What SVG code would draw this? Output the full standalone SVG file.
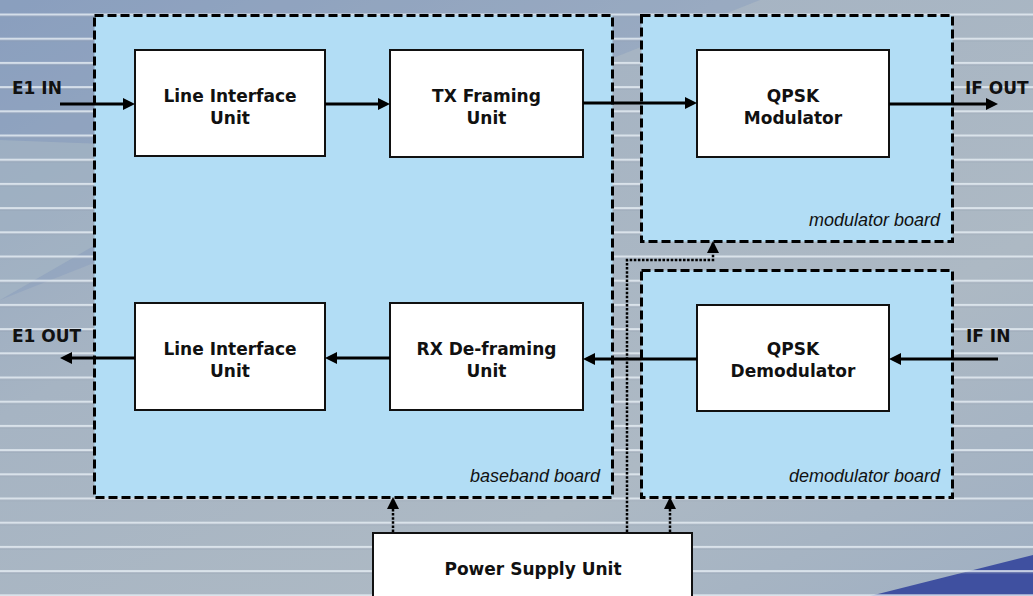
<svg xmlns="http://www.w3.org/2000/svg" width="1033" height="596" viewBox="0 0 1033 596">
  <defs>
    <linearGradient id="bg" x1="0" y1="0" x2="1" y2="1">
      <stop offset="0" stop-color="#8fa3bf"/>
      <stop offset="0.35" stop-color="#a6b4c3"/>
      <stop offset="0.7" stop-color="#adb9c4"/>
      <stop offset="1" stop-color="#9fafc2"/>
    </linearGradient>
    <pattern id="stripes" x="0" y="13.5" width="40" height="24.2" patternUnits="userSpaceOnUse">
      <rect x="0" y="0" width="40" height="2.2" fill="#e6eef4" opacity="0.8"/>
      <rect x="0" y="2.2" width="40" height="1.5" fill="#8a98a8" opacity="0.25"/>
    </pattern>
    <marker id="ah" viewBox="0 0 12 12" refX="8" refY="6" markerWidth="12" markerHeight="12" markerUnits="userSpaceOnUse" orient="auto">
      <path d="M0,0 L12,6 L0,12 z" fill="#000"/>
    </marker>
    <marker id="ahd" viewBox="0 0 12 12" refX="10" refY="6" markerWidth="12" markerHeight="12" markerUnits="userSpaceOnUse" orient="auto">
      <path d="M0,0 L12,6 L0,12 z" fill="#000"/>
    </marker>
  </defs>
  <style>
    .board { fill: #b2ddf5; stroke: #000; stroke-width: 3; stroke-dasharray: 9 4; }
    .box { fill: #fff; stroke: #111; stroke-width: 2; }
    .t { font-family: "DejaVu Sans", Verdana, sans-serif; font-weight: bold; font-size: 17px; fill: #111; text-anchor: middle; }
    .io { font-family: "DejaVu Sans", Verdana, sans-serif; font-weight: bold; font-size: 17px; fill: #111; }
    .lbl { font-family: "Liberation Sans", Arial, sans-serif; font-style: italic; font-size: 18px; fill: #111; text-anchor: end; }
    .sig { stroke: #000; stroke-width: 3; fill: none; marker-end: url(#ah); }
    .pwr { stroke: #000; stroke-width: 2.5; fill: none; stroke-dasharray: 2.5 1.6; }
    .pwra { marker-end: url(#ahd); }
  </style>

  <g id="background">
    <rect x="0" y="0" width="1033" height="596" fill="url(#bg)"/>
    <polygon points="0,0 760,0 0,300" fill="#8097bd" opacity="0.35"/>
    <polygon points="0,300 0,140 260,150" fill="#c9d2cc" opacity="0.25"/>
    <polygon points="870,596 1033,555 1033,596" fill="#3f50a0"/>
    <rect x="0" y="0" width="1033" height="596" fill="url(#stripes)"/>
  </g>

  <g id="baseband-board">
    <rect class="board" x="94.5" y="15.5" width="518" height="482"/>
    <text class="lbl" x="600" y="482">baseband board</text>
  </g>
  <g id="modulator-board">
    <rect class="board" x="641.5" y="15.5" width="311" height="226"/>
    <text class="lbl" x="940" y="226">modulator board</text>
  </g>
  <g id="demodulator-board">
    <rect class="board" x="641.5" y="270.5" width="311" height="227"/>
    <text class="lbl" x="940" y="482">demodulator board</text>
  </g>

  <g id="liu-tx">
    <rect class="box" x="135" y="50" width="190" height="106"/>
    <text class="t" x="230" y="102">Line Interface</text>
    <text class="t" x="230" y="124">Unit</text>
  </g>
  <g id="tx-framing">
    <rect class="box" x="390" y="50" width="193" height="107"/>
    <text class="t" x="486.5" y="102">TX Framing</text>
    <text class="t" x="486.5" y="124">Unit</text>
  </g>
  <g id="qpsk-mod">
    <rect class="box" x="697" y="50" width="192" height="107"/>
    <text class="t" x="793" y="102">QPSK</text>
    <text class="t" x="793" y="124">Modulator</text>
  </g>
  <g id="liu-rx">
    <rect class="box" x="135" y="303" width="190" height="107"/>
    <text class="t" x="230" y="355">Line Interface</text>
    <text class="t" x="230" y="377">Unit</text>
  </g>
  <g id="rx-deframing">
    <rect class="box" x="390" y="303" width="193" height="107"/>
    <text class="t" x="486.5" y="355">RX De-framing</text>
    <text class="t" x="486.5" y="377">Unit</text>
  </g>
  <g id="qpsk-demod">
    <rect class="box" x="697" y="305" width="192" height="106"/>
    <text class="t" x="793" y="355">QPSK</text>
    <text class="t" x="793" y="377">Demodulator</text>
  </g>
  <g id="psu">
    <rect class="box" x="373" y="533" width="319" height="80"/>
    <text class="t" x="533" y="575">Power Supply Unit</text>
  </g>

  <g id="io-labels">
    <text class="io" x="12" y="94">E1 IN</text>
    <text class="io" x="965" y="94">IF OUT</text>
    <text class="io" x="12" y="342">E1 OUT</text>
    <text class="io" x="966" y="342">IF IN</text>
  </g>

  <g id="connectors">
    <line class="sig" x1="60" y1="104" x2="131" y2="104"/>
    <line class="sig" x1="325" y1="104" x2="386" y2="104"/>
    <line class="sig" x1="583" y1="103" x2="693" y2="103"/>
    <line class="sig" x1="889" y1="104" x2="994" y2="104"/>
    <line class="sig" x1="998" y1="359" x2="893" y2="359"/>
    <line class="sig" x1="697" y1="359" x2="587" y2="359"/>
    <line class="sig" x1="390" y1="358" x2="329" y2="358"/>
    <line class="sig" x1="135" y1="358" x2="64" y2="358"/>
    <line class="pwr pwra" x1="393" y1="532" x2="393" y2="499"/>
    <line class="pwr pwra" x1="670" y1="532" x2="670" y2="499"/>
    <polyline class="pwr pwra" points="627,532 627,260 713,260 713,243"/>
  </g>
</svg>
